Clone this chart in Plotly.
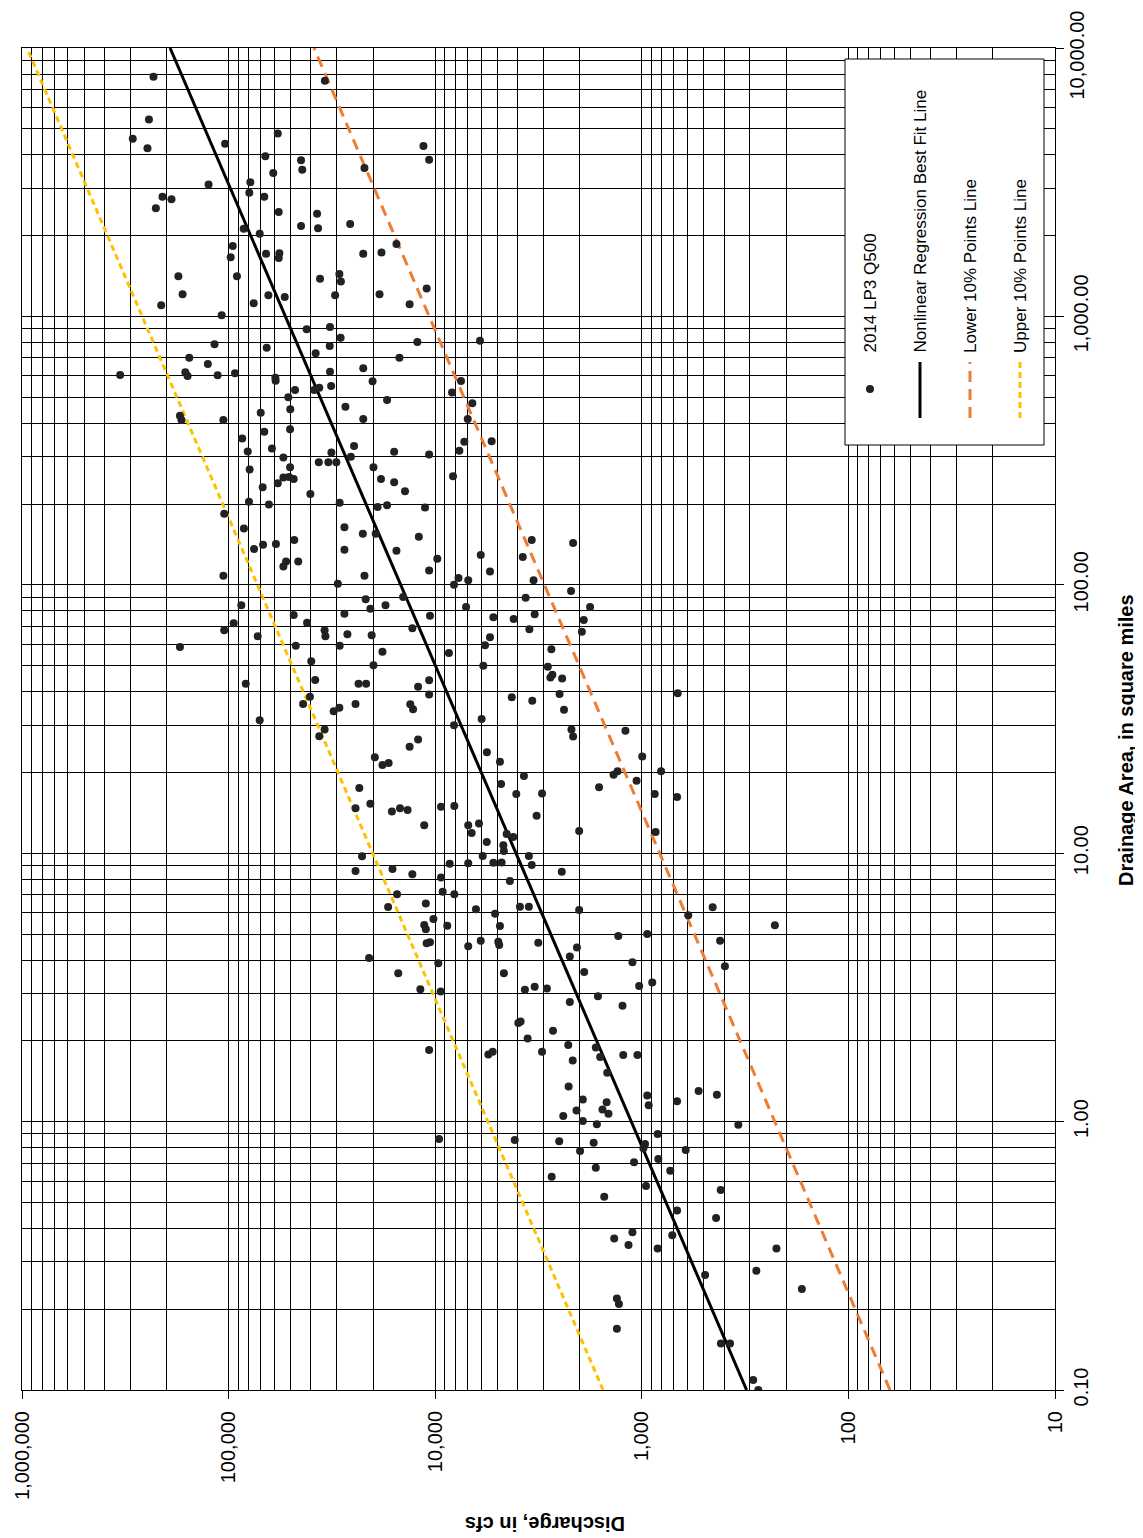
import plotly.graph_objects as go

# ---------------- data ----------------
discharge_cfs = [
    231000, 243000, 291000, 247000, 34200, 57800, 104000, 11400, 10700, 66400,
    44600, 44000, 60800, 22000, 125000, 78500, 79400, 209000, 189000, 225000,
    67200, 57200, 37300, 44600, 36900, 25800, 84500, 70700, 95500, 97700,
    65900, 56800, 57200, 22300, 18200, 15400, 175000, 91100, 36100, 29100,
    28600, 167000, 64200, 53500, 30500, 18600, 11000, 13300, 212000, 75600,
    108000, 41900, 32300, 28700, 12200, 117000, 65400, 32400, 37900, 155000,
    14900, 126000, 22300, 162000, 158000, 113000, 93100, 32300, 335000, 59400,
    59200, 20100, 47700, 51400, 38500, 36400, 31900, 17100, 8290, 50300,
    27200, 172000, 169000, 106000, 69900, 22300, 50400, 67200, 85900, 80800,
    61700, 54300, 31800, 24700, 15800, 25600, 10700, 36600, 32900, 30100,
    50400, 79100, 19900, 54300, 51000, 48400, 57800, 18300, 15800, 8200,
    68400, 14000, 40200, 79700, 63800, 29000, 19000, 17100, 11200, 7640,
    6070, 7500, 6610, 6960, 7230, 5330,
    105000, 84300, 27500, 22400, 19400, 12000, 75300, 68100, 59000, 48100,
    27500, 15400, 54300, 52700, 46000, 9770, 10700, 106000, 22000, 29600,
    8110, 21700, 14300, 86800, 20600, 17400, 27500, 48400, 10600, 94500,
    41700, 105000, 34300, 34000, 26600, 20300, 12900, 72300, 172000, 47300,
    29000, 18000, 8580, 39800, 19900, 82600, 38100, 23500, 21600, 12100,
    10700, 10700, 40400, 43600, 24300, 13200, 12800, 31000, 29100, 70700,
    8110, 34300, 36400, 13300, 12100, 19600, 18000, 16800, 23300, 24300,
    20600, 16200, 14800, 13600, 11300, 9370, 8080, 22600, 24300, 16100,
    12900, 8510, 9370, 9200, 8080, 15300, 16900, 11100, 10200, 11300,
    11100, 8740, 11000, 10600, 7710,
    3410, 2150, 6020, 3770, 5430, 6920, 3340, 2200, 3650, 7090,
    3300, 1780, 5230, 4170, 1910, 3500, 1950, 5430, 5740, 2740,
    5850, 2850, 2710, 2770, 2430, 2500, 4260, 3390, 670, 2380,
    5960, 2190, 2150, 1200, 5620, 4860, 995, 3720, 4800, 1370,
    1310, 807, 1060, 1610, 4050, 3040, 866, 675, 3230, 6920,
    6140, 6660, 4510, 4190, 2010, 857, 5630, 4680, 4650, 5890,
    3520, 6920, 5230, 4770, 3410, 2440, 4350, 6350, 5130, 3890,
    3520, 2010, 454, 596, 227, 4860, 1300, 941, 6920, 6020,
    4950, 4900, 3170, 2060, 418,
    2230, 9660, 15100, 4650, 1900, 1110, 396, 11800, 9410, 3680,
    3300, 2880, 1030, 890, 2230, 1630, 1240, 3960, 3860, 2690,
    3570, 10700, 5530, 5270, 3040, 2270, 1670, 1590, 1230, 1050,
    2160, 1470, 2260, 1930, 1480, 2070, 1550, 1450, 2400, 1930,
    1650, 941, 926, 675, 531, 433, 341, 9580, 4120, 2510,
    1710, 1990, 838, 965, 983, 613, 832, 1090, 1670, 728,
    2730, 954, 415, 1520, 675, 437, 712, 1110, 1360, 1160,
    838, 223, 494, 279, 168, 1320, 1290, 1320, 414, 374,
    289, 273, 20900,
]

drainage_area_sqmi = [
    7820, 5420, 4590, 4230, 7550, 4800, 4400, 4310, 3830, 3950,
    3820, 3520, 3420, 3570, 3100, 3160, 2890, 2790, 2730, 2530,
    2790, 2450, 2410, 2170, 2130, 2210, 2120, 2030, 1830, 1660,
    1710, 1720, 1650, 1710, 1730, 1860, 1410, 1410, 1380, 1440,
    1350, 1210, 1200, 1180, 1200, 1210, 1270, 1110, 1100, 1120,
    1010, 895, 913, 833, 803, 787, 764, 776, 729, 702,
    702, 665, 641, 619, 600, 603, 614, 622, 605, 591,
    576, 573, 532, 500, 532, 542, 550, 488, 521, 451,
    461, 426, 411, 411, 438, 415, 380, 372, 351, 314,
    322, 298, 311, 329, 313, 300, 306, 286, 286, 286,
    274, 269, 274, 251, 252, 248, 239, 248, 241, 254,
    231, 223, 218, 204, 199, 202, 195, 198, 194, 316,
    812, 574, 475, 415, 341, 343,
    184, 162, 164, 155, 155, 151, 136, 141, 142, 147,
    135, 134, 117, 122, 122, 125, 113, 108, 108, 101,
    100, 88.3, 90.1, 83.9, 81.5, 83.9, 78.0, 77.2, 76.7, 71.9,
    72.2, 67.7, 67.7, 64.3, 65.4, 64.9, 68.9, 64.3, 58.6, 59.3,
    59.3, 56.3, 55.7, 51.9, 50.2, 42.8, 44.2, 42.8, 42.8, 41.7,
    44.1, 39.0, 38.3, 36.0, 36.0, 35.9, 34.4, 33.8, 34.8, 31.3,
    30.0, 28.9, 27.3, 24.9, 26.5, 22.8, 21.3, 21.7, 17.5, 14.7,
    15.3, 14.3, 14.7, 14.5, 12.7, 14.9, 15.0, 9.74, 8.58, 8.73,
    8.35, 9.14, 8.11, 7.19, 7.03, 7.03, 6.30, 6.49, 5.69, 5.40,
    5.21, 5.37, 4.62, 4.66, 106,
    147, 143, 129, 127, 112, 104, 104, 94.8, 89.5, 82.6,
    77.6, 82.6, 75.7, 74.6, 74.0, 68.3, 66.9, 63.7, 59.5, 57.5,
    49.9, 49.5, 46.2, 45.1, 44.8, 39.2, 38.1, 37.0, 39.4, 34.2,
    31.6, 28.9, 27.2, 28.6, 23.8, 21.9, 22.9, 19.4, 18.1, 19.6,
    20.2, 20.2, 18.6, 17.6, 16.6, 16.7, 16.6, 16.2, 13.8, 12.7,
    12.9, 11.9, 11.8, 11.5, 12.1, 12.0, 11.0, 10.7, 10.2, 9.76,
    9.76, 9.17, 9.22, 9.23, 9.04, 8.53, 7.88, 6.18, 5.95, 6.32,
    6.32, 6.14, 6.29, 5.87, 5.39, 5.36, 4.92, 5.00, 4.50, 4.72,
    4.68, 4.55, 4.64, 4.45, 4.72,
    4.12, 3.89, 3.57, 3.57, 3.61, 3.92, 3.79, 3.11, 3.05, 3.10,
    3.18, 3.13, 3.20, 3.30, 2.79, 2.93, 2.70, 2.33, 2.36, 2.18,
    2.04, 1.85, 1.78, 1.82, 1.82, 1.93, 1.89, 1.74, 1.77, 1.77,
    1.69, 1.52, 1.35, 1.21, 1.18, 1.10, 1.11, 1.07, 1.05, 1.005,
    0.977, 1.25, 1.15, 1.19, 1.30, 1.26, 0.974, 0.861, 0.854, 0.845,
    0.834, 0.777, 0.899, 0.825, 0.795, 0.784, 0.726, 0.706, 0.673, 0.656,
    0.623, 0.576, 0.556, 0.525, 0.466, 0.437, 0.377, 0.387, 0.367, 0.347,
    0.337, 0.337, 0.268, 0.278, 0.238, 0.219, 0.209, 0.169, 0.149, 0.149,
    0.109, 0.100, 4.07,
]

# fitted lines: end points (drainage area -> discharge)
line_area = [0.1, 10000]
best_fit_q = [311, 192000]
lower10_q = [62.9, 38600]
upper10_q = [1540, 946000]

x_tick_vals = [1e6, 1e5, 1e4, 1e3, 1e2, 1e1]
x_tick_text = ["1,000,000", "100,000", "10,000", "1,000", "100", "10"]
y_tick_vals = [0.1, 1, 10, 100, 1000, 10000]
y_tick_text = ["0.10", "1.00", "10.00", "100.00", "1,000.00", "10,000.00"]

legend_labels = ["2014 LP3 Q500", "Nonlinear Regression Best Fit Line",
                 "Lower 10% Points Line", "Upper 10% Points Line"]

# ---------------- figure ----------------
FONT = "Liberation Sans, Arial, sans-serif"
ORANGE = "#ED7D31"
YELLOW = "#FFC000"

# page body has an 8px margin; the figure is sized so the plot area lands
# on screen at x 22..1055, y 48..1390
W, H = 1135, 1530
ML, MR, MT, MB = 14, 88, 40, 148
PW, PH = W - ML - MR, H - MT - MB
SCR_LEFT = 8 + ML
SCR_BOTTOM = 8 + MT + PH


def px(xs):
    return (xs - SCR_LEFT) / PW


def py(ys):
    return (SCR_BOTTOM - ys) / PH


fig = go.Figure()

fig.add_trace(go.Scatter(x=upper10_q, y=line_area, mode="lines",
                         line=dict(color=YELLOW, width=3, dash="6px,4px"),
                         showlegend=False, hoverinfo="skip"))
fig.add_trace(go.Scatter(x=lower10_q, y=line_area, mode="lines",
                         line=dict(color=ORANGE, width=3, dash="11px,7px"),
                         showlegend=False, hoverinfo="skip"))
fig.add_trace(go.Scatter(x=best_fit_q, y=line_area, mode="lines",
                         line=dict(color="black", width=3),
                         showlegend=False, hoverinfo="skip"))
fig.add_trace(go.Scatter(x=discharge_cfs, y=drainage_area_sqmi, mode="markers",
                         marker=dict(size=8, color="#222222"),
                         showlegend=False))

minor_x = [m * 10 ** k for k in range(1, 6) for m in range(2, 10)]
minor_y = [m * 10 ** k for k in range(-1, 4) for m in range(2, 10)]

# the top y tick label would run past the top of the page, so it is drawn
# as an annotation pushed just inside the page instead
axis_y_text = y_tick_text[:-1] + [""]

fig.update_xaxes(
    type="log", range=[6, 1],
    tickvals=x_tick_vals, ticktext=x_tick_text, tickangle=-90,
    tickfont=dict(size=20, color="black", family=FONT),
    ticks="outside", ticklen=8, tickcolor="black", tickwidth=1,
    showgrid=True, gridcolor="black", gridwidth=1,
    minor=dict(tickvals=minor_x, showgrid=True, gridcolor="black",
               gridwidth=1, ticks=""),
    showline=True, linecolor="black", linewidth=1, mirror=True,
    zeroline=False, ticklabelstandoff=4, ticklabeloverflow="allow",
)
fig.update_yaxes(
    type="log", range=[-1, 4], side="right",
    tickvals=y_tick_vals, ticktext=axis_y_text, tickangle=-90,
    tickfont=dict(size=20, color="black", family=FONT),
    ticks="outside", ticklen=8, tickcolor="black", tickwidth=1,
    showgrid=True, gridcolor="black", gridwidth=1,
    minor=dict(tickvals=minor_y, showgrid=True, gridcolor="black",
               gridwidth=1, ticks=""),
    showline=True, linecolor="black", linewidth=1, mirror=True,
    zeroline=False, ticklabeloverflow="allow",
)

shapes = [
    dict(type="rect", xref="paper", yref="paper",
         x0=px(845), x1=px(1044), y0=py(445), y1=py(59),
         fillcolor="white", line=dict(color="black", width=1), layer="above"),
    dict(type="circle", xref="paper", yref="paper",
         xsizemode="pixel", ysizemode="pixel",
         xanchor=px(870), yanchor=py(389), x0=-4, x1=4, y0=-4, y1=4,
         fillcolor="#222222", line=dict(color="#222222", width=0), layer="above"),
    dict(type="line", xref="paper", yref="paper",
         x0=px(920), x1=px(920), y0=py(418), y1=py(362),
         line=dict(color="black", width=3), layer="above"),
    dict(type="line", xref="paper", yref="paper",
         x0=px(970), x1=px(970), y0=py(418), y1=py(362),
         line=dict(color=ORANGE, width=3, dash="11px,7px"), layer="above"),
    dict(type="line", xref="paper", yref="paper",
         x0=px(1020), x1=px(1020), y0=py(418), y1=py(362),
         line=dict(color=YELLOW, width=3, dash="6px,4px"), layer="above"),
]

annotations = []
for lab, xpix in zip(legend_labels, [870, 920, 970, 1020]):
    annotations.append(dict(
        text=lab, xref="paper", yref="paper", x=px(xpix), y=py(355),
        xanchor="center", yanchor="bottom", textangle=-90, showarrow=False,
        font=dict(size=17, color="black", family=FONT)))

annotations.append(dict(
    text=y_tick_text[-1], xref="paper", yref="paper",
    x=px(1076), y=py(9), xanchor="center", yanchor="top",
    textangle=-90, showarrow=False,
    font=dict(size=20, color="black", family=FONT)))

annotations.append(dict(
    text="<b>Drainage Area, in square miles</b>", xref="paper", yref="paper",
    x=px(1126), y=py(740), xanchor="center", yanchor="middle",
    textangle=-90, showarrow=False,
    font=dict(size=20, color="black", family=FONT)))
annotations.append(dict(
    text="<b>Discharge, in cfs</b>", xref="paper", yref="paper",
    x=px(545), y=py(1524), xanchor="center", yanchor="middle",
    textangle=180, showarrow=False,
    font=dict(size=20, color="black", family=FONT)))

fig.update_layout(
    width=W, height=H,
    margin=dict(l=ML, r=MR, t=MT, b=MB, autoexpand=False),
    paper_bgcolor="white", plot_bgcolor="white",
    font=dict(family=FONT, color="black"),
    shapes=shapes, annotations=annotations,
    showlegend=False,
)

fig.write_html("out.html")
